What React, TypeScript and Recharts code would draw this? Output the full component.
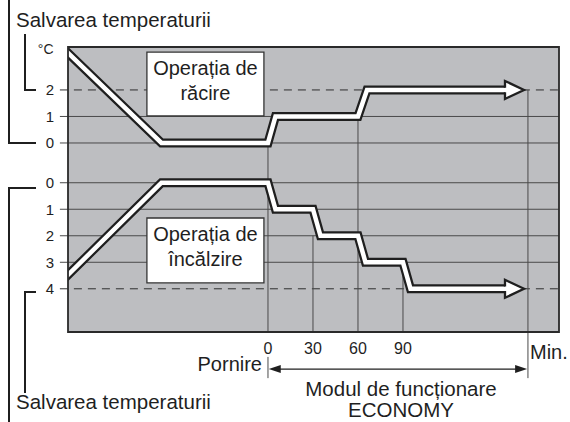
import React from "react";
import {
  ComposedChart,
  Line,
  XAxis,
  YAxis,
  ReferenceArea,
  ReferenceLine,
} from "recharts";

const FONT = '"Liberation Sans", Arial, Helvetica, sans-serif';
const DARK = "#1f1f1f";
const GRID = "#4a4a4a";
const PLOT_BG = "#bdbec1";

// minutes from start vs. temperature shift (°C)
const coolingMinutes = [-140, -71, 0, 5, 60, 66, 158];
const coolingShift = [3.76, 0, 0, 1, 1, 2, 2];
const heatingMinutes = [-140, -71, 0, 5, 30, 35, 60, 65, 90, 95, 158];
const heatingShift = [3.85, 0, 0, 1, 1, 2, 2, 3, 3, 4, 4];

const coolingTicks = [2, 1, 0];
const heatingTicks = [0, 1, 2, 3, 4];
const minuteTicks = [0, 30, 60, 90];
const endMinute = 173.3;

// each minute grid line starts under the curve it meets
const minuteLineCurve = ["cooling", "heating", "cooling", "heating"];
const minuteLineLevel = [0, 2, 1, 3];

// heating scale sits below the cooling one on a shared axis
const HEAT_ZERO = -1.5;
const coolY = (v: number) => v;
const heatY = (v: number) => HEAT_ZERO - v;

const X_DOMAIN: [number, number] = [-133.3, 194];
const Y_DOMAIN: [number, number] = [-7.13, 3.62];
const TICK_START = -138.7;
const BELOW_TOP = -8.07;
const BELOW_ARROW = -8.53;
const BELOW_END = -8.87;

const coolingData = coolingMinutes.map((m, i) => ({ m, y: coolY(coolingShift[i]) }));
const heatingData = heatingMinutes.map((m, i) => ({ m, y: heatY(heatingShift[i]) }));
const yTicks = [...coolingTicks.map(coolY), ...heatingTicks.map(heatY)];

function ArrowHead({ cx, cy }: { cx: number; cy: number }) {
  const len = 19;
  const half = 9;
  const inner = 2.3;
  return (
    <g>
      <polygon points={`${cx},${cy - half} ${cx + len},${cy} ${cx},${cy + half}`} fill="#fff" />
      <polyline
        points={`${cx},${cy - inner} ${cx},${cy - half} ${cx + len},${cy} ${cx},${cy + half} ${cx},${cy + inner}`}
        fill="none"
        stroke={DARK}
        strokeWidth={2.3}
      />
    </g>
  );
}

const arrowDot = (count: number) => (p: any) =>
  p.index === count - 1 ? (
    <ArrowHead key={`a${p.index}`} cx={p.cx} cy={p.cy} />
  ) : (
    <g key={`a${p.index}`} />
  );

function SpanArrow(p: any) {
  const { x1, y1, x2 } = p;
  const L = 12;
  const H = 4;
  const a = x1 + 0.8;
  const b = x2 - 0.8;
  return (
    <g>
      <line x1={a + L - 1} y1={y1} x2={b - L + 1} y2={y1} stroke={DARK} strokeWidth={1.2} />
      <polygon points={`${a},${y1} ${a + L},${y1 - H} ${a + L},${y1 + H}`} fill={DARK} />
      <polygon points={`${b},${y1} ${b - L},${y1 - H} ${b - L},${y1 + H}`} fill={DARK} />
    </g>
  );
}

const boxLabel = (lines: string[]) => (props: any) => {
  const vb = props.viewBox || { x: 0, y: 0, width: 0, height: 0 };
  const cx = vb.x + vb.width / 2;
  return (
    <text textAnchor="middle" fontSize={20} fontFamily={FONT} fill={DARK}>
      {lines.map((l, i) => (
        <tspan key={i} x={cx} y={vb.y + 23 + i * 25}>
          {l}
        </tspan>
      ))}
    </text>
  );
};

const fmtY = (v: number) => (v > -1 ? String(v) : String(Math.round(HEAT_ZERO - v)));

export default function App() {
  const hLines = [
    ...coolingTicks.map((v) => ({ y: coolY(v), dashed: v === 2 })),
    ...heatingTicks.map((v) => ({ y: heatY(v), dashed: v === 4 })),
  ];
  return (
    <div style={{ position: "absolute", left: 0, top: 0, width: 570, height: 422, background: "#fff" }}>
      <ComposedChart width={570} height={422} margin={{ top: 47, right: 11, bottom: 0, left: 0 }}>
        <XAxis
          type="number"
          dataKey="m"
          domain={X_DOMAIN}
          allowDataOverflow
          ticks={minuteTicks}
          interval={0}
          height={90}
          axisLine={false}
          tickLine={false}
          tickSize={6}
          tickMargin={5}
          tick={{ fontSize: 16, fill: DARK, fontFamily: FONT }}
        />
        <YAxis
          type="number"
          domain={Y_DOMAIN}
          allowDataOverflow
          ticks={yTicks}
          interval={0}
          width={68}
          axisLine={false}
          tickLine={false}
          tickSize={8}
          tickMargin={6}
          tickFormatter={fmtY}
          tick={{ fontSize: 15, fill: DARK, fontFamily: FONT }}
        />
        <ReferenceArea
          x1={X_DOMAIN[0]}
          x2={X_DOMAIN[1]}
          y1={Y_DOMAIN[0]}
          y2={Y_DOMAIN[1]}
          fill={PLOT_BG}
          fillOpacity={1}
          stroke="none"
          zIndex={-300}
        />
        {hLines.map((h, i) => (
          <ReferenceLine
            key={`h${i}`}
            segment={[
              { x: TICK_START, y: h.y },
              { x: X_DOMAIN[1], y: h.y },
            ]}
            ifOverflow="visible"
            stroke={h.dashed ? "#2e2e2e" : GRID}
            strokeWidth={1}
            strokeDasharray={h.dashed ? "8 6" : undefined}
            zIndex={-200}
          />
        ))}
        {minuteTicks.map((m, i) => {
          const lvl = minuteLineLevel[i];
          const top = minuteLineCurve[i] === "cooling" ? coolY(lvl) : heatY(lvl);
          return (
            <ReferenceLine
              key={`v${i}`}
              segment={[
                { x: m, y: top },
                { x: m, y: Y_DOMAIN[0] },
              ]}
              ifOverflow="visible"
              stroke={GRID}
              strokeWidth={1}
              zIndex={-200}
            />
          );
        })}
        <ReferenceLine
          segment={[
            { x: endMinute, y: coolY(2) },
            { x: endMinute, y: BELOW_END },
          ]}
          ifOverflow="visible"
          stroke={GRID}
          strokeWidth={1}
          zIndex={-200}
        />
        <ReferenceArea
          x1={-80.7}
          x2={-2.7}
          y1={1.02}
          y2={3.43}
          fill="#fff"
          fillOpacity={1}
          stroke="#333"
          strokeWidth={1.3}
          zIndex={-100}
          label={boxLabel(["Operația de", "răcire"])}
        />
        <ReferenceArea
          x1={-80.7}
          x2={-2.7}
          y1={-5.28}
          y2={-2.83}
          fill="#fff"
          fillOpacity={1}
          stroke="#333"
          strokeWidth={1.3}
          zIndex={-100}
          label={boxLabel(["Operația de", "încălzire"])}
        />
        <Line
          data={coolingData}
          dataKey="y"
          type="linear"
          stroke={DARK}
          strokeWidth={9}
          strokeLinejoin="miter"
          dot={false}
          activeDot={false}
          isAnimationActive={false}
          zIndex={400}
        />
        <Line
          data={coolingData}
          dataKey="y"
          type="linear"
          stroke="#fff"
          strokeWidth={4.5}
          strokeLinejoin="miter"
          dot={arrowDot(coolingData.length)}
          activeDot={false}
          isAnimationActive={false}
          zIndex={401}
        />
        <Line
          data={heatingData}
          dataKey="y"
          type="linear"
          stroke={DARK}
          strokeWidth={9}
          strokeLinejoin="miter"
          dot={false}
          activeDot={false}
          isAnimationActive={false}
          zIndex={402}
        />
        <Line
          data={heatingData}
          dataKey="y"
          type="linear"
          stroke="#fff"
          strokeWidth={4.5}
          strokeLinejoin="miter"
          dot={arrowDot(heatingData.length)}
          activeDot={false}
          isAnimationActive={false}
          zIndex={403}
        />
        <ReferenceArea
          x1={X_DOMAIN[0]}
          x2={X_DOMAIN[1]}
          y1={Y_DOMAIN[0]}
          y2={Y_DOMAIN[1]}
          fill="none"
          fillOpacity={0}
          stroke="#2a2a2a"
          strokeWidth={1.8}
          zIndex={900}
        />
        <ReferenceLine
          segment={[
            { x: 0, y: BELOW_TOP },
            { x: 0, y: BELOW_END },
          ]}
          ifOverflow="visible"
          stroke={GRID}
          strokeWidth={1}
        />
        <ReferenceLine
          segment={[
            { x: 0, y: BELOW_ARROW },
            { x: endMinute, y: BELOW_ARROW },
          ]}
          ifOverflow="visible"
          shape={SpanArrow}
        />
      </ComposedChart>
      <svg
        width={570}
        height={422}
        style={{ position: "absolute", left: 0, top: 0, pointerEvents: "none" }}
        fontFamily={FONT}
        fill={DARK}
      >
        <g fill="none" stroke={DARK} strokeWidth={2}>
          <polyline points="9,0 9,143 36,143" />
          <polyline points="25,34 25,90 36,90" />
          <polyline points="36,188 9,188 9,422" />
          <polyline points="36,292 25,292 25,393" />
        </g>
        <text x={16} y={26.5} fontSize={20.5}>Salvarea temperaturii</text>
        <text x={16} y={409} fontSize={20.5}>Salvarea temperaturii</text>
        <text x={53.5} y={54} fontSize={14} textAnchor="end">°C</text>
        <text x={530} y={359} fontSize={20}>Min.</text>
        <text x={262} y={371} fontSize={20} textAnchor="end">Pornire</text>
        <text x={401} y={396} fontSize={20.5} textAnchor="middle">Modul de funcționare</text>
        <text x={401} y={417} fontSize={20.5} textAnchor="middle">ECONOMY</text>
      </svg>
    </div>
  );
}
